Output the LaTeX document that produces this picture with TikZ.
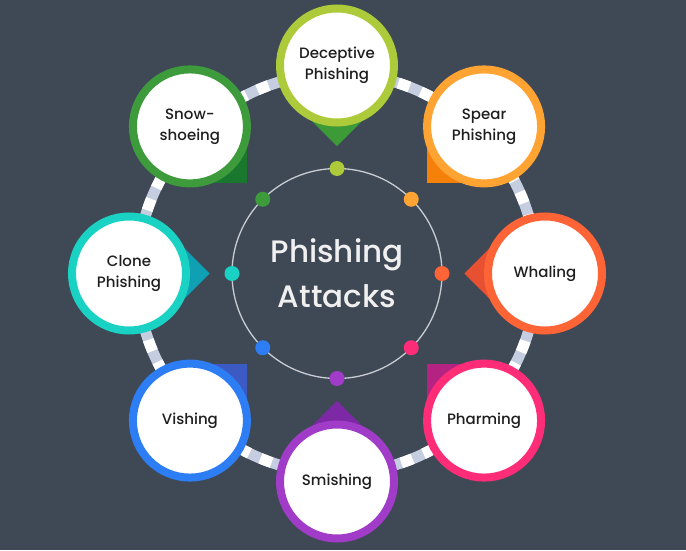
\documentclass[tikz,border=0pt]{standalone}
\usepackage{fontspec}
\setmainfont{Poppins}[UprightFont={* Medium}]
\usetikzlibrary{calc}
\definecolor{bg}{RGB}{63,73,86}
\definecolor{ringblue}{RGB}{197,205,224}
\definecolor{inner}{RGB}{200,204,210}
\definecolor{txt}{RGB}{30,30,30}
\definecolor{cDec}{RGB}{172,202,58}\definecolor{pDec}{RGB}{60,155,55}
\definecolor{cSpe}{RGB}{255,163,51}\definecolor{pSpe}{RGB}{245,128,10}
\definecolor{cWha}{RGB}{255,100,55}\definecolor{pWha}{RGB}{232,80,50}
\definecolor{cPha}{RGB}{255,45,120}\definecolor{pPha}{RGB}{180,35,130}
\definecolor{cSmi}{RGB}{160,60,200}\definecolor{pSmi}{RGB}{125,40,165}
\definecolor{cVis}{RGB}{45,125,245}\definecolor{pVis}{RGB}{60,90,195}
\definecolor{cClo}{RGB}{25,210,195}\definecolor{pClo}{RGB}{15,160,180}
\definecolor{cSno}{RGB}{62,155,60}\definecolor{pSno}{RGB}{25,120,45}
\tikzset{
  bubble/.style={circle, draw=#1, line width=8pt, fill=white, minimum size=114pt, inner sep=0pt, align=center, font=\fontsize{15}{21}\selectfont, text=txt},
  dotnode/.style={circle, fill=#1, minimum size=15pt, inner sep=0pt},
}
\begin{document}
\begin{tikzpicture}[x=1pt,y=1pt]
\fill[bg] (0,0) rectangle (686,550);
\useasboundingbox (0,0) rectangle (686,550);
\coordinate (C) at (337,276.5);
% dashed outer ring
\draw[ringblue, line width=11pt] (C) circle[radius=200];
\draw[white, line width=11pt, dash pattern=on 12pt off 12pt] (C) circle[radius=200];
% inner circle
\draw[inner, line width=1.3pt] (C) circle[radius=105];
\node[font=\fontsize{31}{45}\selectfont, text=white!94!black, align=center] (title) at (C) {Phishing\\Attacks};
% bubbles with pointers
\foreach \ang/\rc/\pc/\nm/\lab in {
  90/cDec/pDec/dec/{Deceptive\\Phishing},
  45/cSpe/pSpe/spe/{Spear\\Phishing},
  0/cWha/pWha/wha/{Whaling},
  -45/cPha/pPha/pha/{Pharming},
  -90/cSmi/pSmi/smi/{Smishing},
  -135/cVis/pVis/vis/{Vishing},
  180/cClo/pClo/clo/{Clone\\Phishing},
  135/cSno/pSno/sno/{Snow-\\shoeing}}{
  \pgfmathsetmacro{\pang}{\ang+180}
  \coordinate (p\nm) at ($(C)+(\ang:208)$);
  \fill[\pc] (p\nm) -- ++(\pang-45:57) -- ++(\pang+45:57) -- ++(\pang+135:57) -- cycle;
  \node[bubble=\rc] (\nm) at (p\nm) {\lab};
  \node[dotnode=\rc] (d\nm) at ($(C)+(\ang:105)$) {};
}
\end{tikzpicture}
\end{document}
